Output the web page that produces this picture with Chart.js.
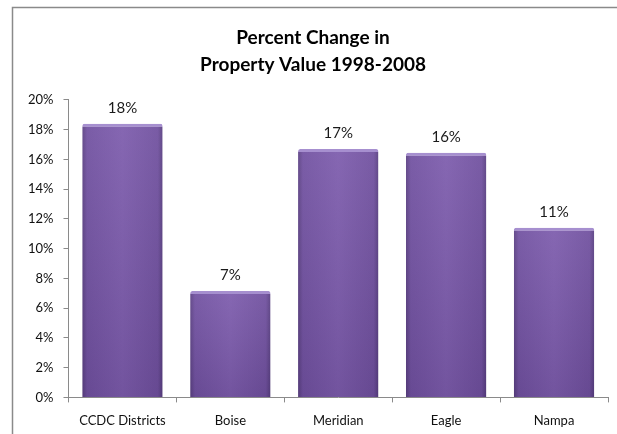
<!DOCTYPE html>
<html>
<head>
<meta charset="utf-8">
<script src="https://cdn.jsdelivr.net/npm/chart.js@4/dist/chart.umd.min.js"></script>
<style>
  html, body { margin: 0; padding: 0; background: #fff; overflow: hidden; }
  #wrap { width: 617px; height: 434px; position: relative; }
</style>
</head>
<body>
<div id="wrap"><canvas id="myChart" width="617" height="434"></canvas></div>
<script>
// data
var categories = ['CCDC Districts', 'Boise', 'Meridian', 'Eagle', 'Nampa'];
var changeValues = [18.4, 7.15, 16.7, 16.45, 11.4];
var valueLabels = ['18%', '7%', '17%', '16%', '11%'];
var titleLines = ['Percent Change in', 'Property Value 1998-2008'];

var FONT = 'Lato, "Open Sans", sans-serif';
var BAR_PCT = 0.745;

// outer frame (only left + top edges are inside the picture)
var framePlugin = {
    id: 'frame',
    beforeDraw: function (chart) {
        var c = chart.ctx;
        c.save();
        c.fillStyle = '#fff';
        c.fillRect(0, 0, chart.width, chart.height);
        c.strokeStyle = '#8a8a8a';
        c.lineWidth = 1.5;
        c.strokeRect(12.5, 7.5, 700, 500);
        c.restore();
    }
};

// soft vertical shading on the bars + value text above each bar
var labelPlugin = {
    id: 'valueLabels',
    afterDatasetsDraw: function (chart) {
        var c = chart.ctx;
        var meta = chart.getDatasetMeta(0);
        c.save();
        meta.data.forEach(function (bar) {
            var top = bar.y + 3, bottom = bar.base, half = bar.width / 2;
            var g = c.createLinearGradient(0, top, 0, bottom);
            g.addColorStop(0, 'rgba(255,255,255,0.07)');
            g.addColorStop(1, 'rgba(0,0,0,0.08)');
            c.fillStyle = g;
            c.fillRect(bar.x - half, top, bar.width, bottom - top);
        });
        c.font = '15px ' + FONT;
        c.fillStyle = '#1a1a1a';
        c.textAlign = 'center';
        c.textBaseline = 'alphabetic';
        meta.data.forEach(function (bar, i) {
            c.fillText(valueLabels[i], bar.x, bar.y - 11);
        });
        c.restore();
    }
};

function barFill(context) {
    var chart = context.chart;
    var xs = chart.scales.x;
    if (!xs || !isFinite(xs.width) || xs.width <= 0) return '#7957a8';
    var cx = xs.getPixelForValue(context.dataIndex);
    var half = xs.width / categories.length * BAR_PCT / 2;
    var g = chart.ctx.createLinearGradient(cx - half, 0, cx + half, 0);
    g.addColorStop(0, '#5a3f82');
    g.addColorStop(0.06, '#7050a0');
    g.addColorStop(0.5, '#7c5bac');
    g.addColorStop(0.94, '#6f4f9e');
    g.addColorStop(1, '#573d80');
    return g;
}

var ctx = document.getElementById('myChart').getContext('2d');
var chart = new Chart(ctx, {
    type: 'bar',
    data: {
        labels: categories,
        datasets: [{
            data: changeValues,
            backgroundColor: barFill,
            borderColor: '#a68fcf',
            borderWidth: { top: 3, left: 0, right: 0, bottom: 0 },
            borderRadius: { topLeft: 2, topRight: 2 },
            borderSkipped: 'bottom',
            barPercentage: BAR_PCT,
            categoryPercentage: 1.0
        }]
    },
    options: {
        responsive: false,
        animation: false,
        devicePixelRatio: 1,
        layout: { padding: { left: 18, right: 9, top: 0, bottom: -6 } },
        plugins: {
            legend: { display: false },
            tooltip: { enabled: false },
            title: {
                display: true,
                text: titleLines,
                color: '#000',
                font: { family: FONT, size: 19, weight: 'bold', lineHeight: 1.42 },
                padding: { top: 24, bottom: 22 }
            }
        },
        scales: {
            x: {
                grid: { display: true, drawOnChartArea: false, offset: true, tickLength: 5, color: '#8a8a8a' },
                border: { color: '#8a8a8a' },
                ticks: { color: '#111', font: { family: FONT, size: 13 }, padding: 11, maxRotation: 0 }
            },
            y: {
                min: 0,
                max: 20,
                grid: { display: true, drawOnChartArea: false, tickLength: 5, color: '#8a8a8a' },
                border: { color: '#8a8a8a' },
                ticks: {
                    stepSize: 2,
                    color: '#111',
                    font: { family: FONT, size: 13 },
                    padding: 10,
                    callback: function (v) { return v + '%'; }
                }
            }
        }
    },
    plugins: [framePlugin, labelPlugin]
});
</script>
</body>
</html>
